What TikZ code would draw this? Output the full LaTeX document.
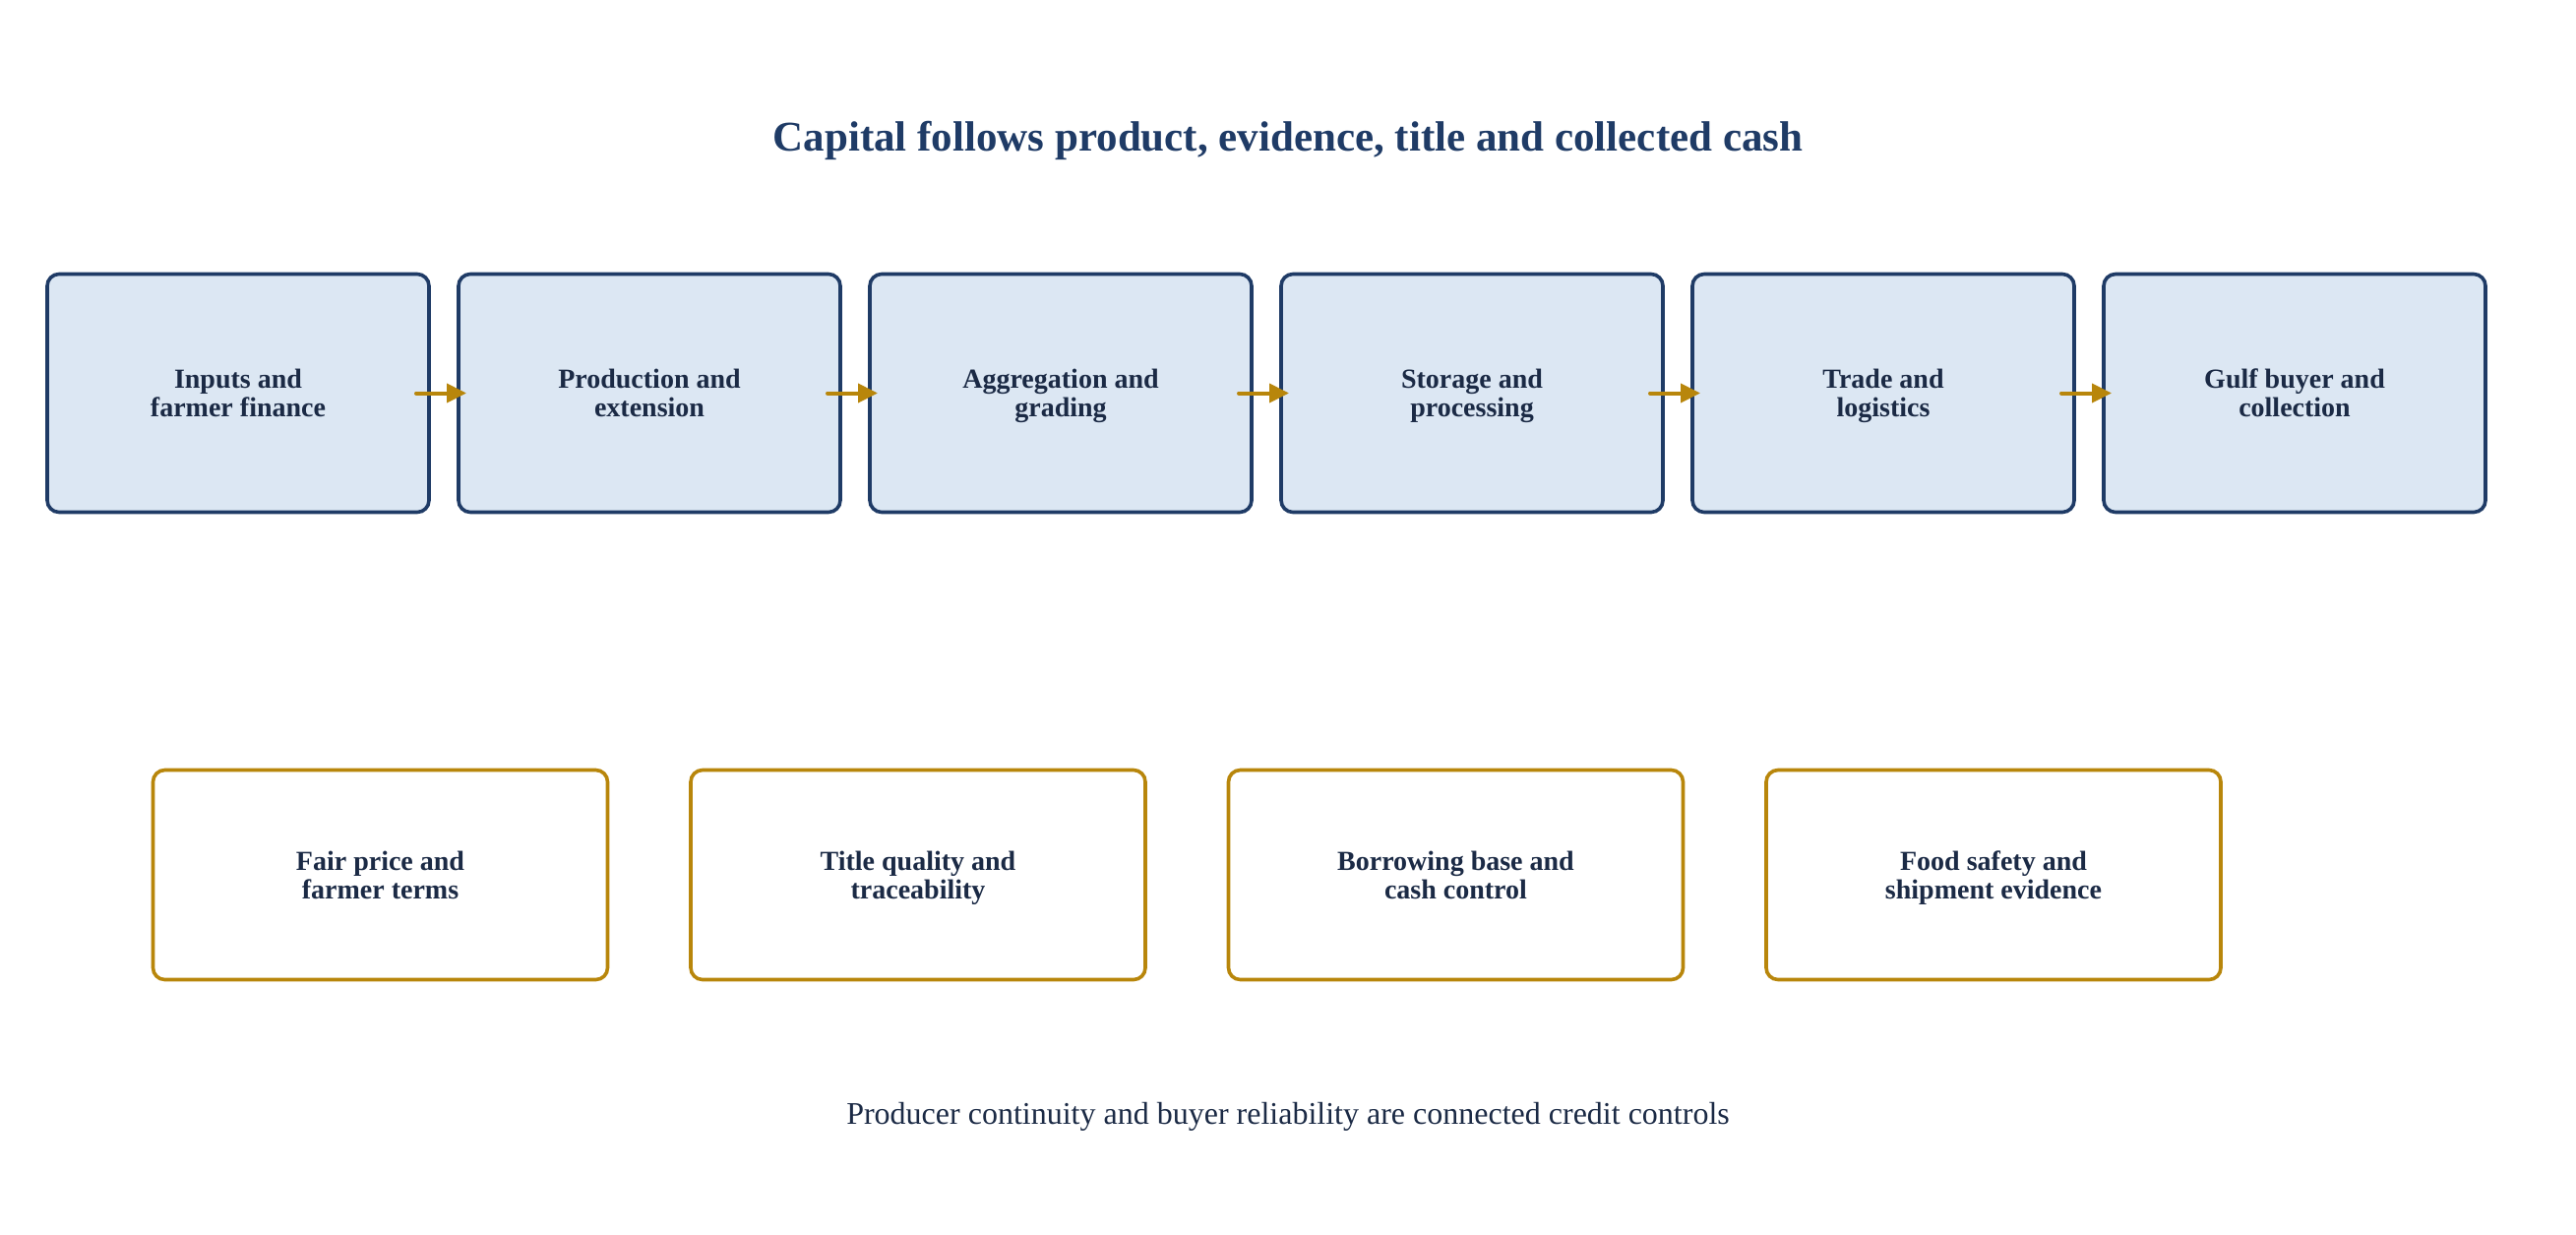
\documentclass[tikz,border=0pt]{standalone}
\usepackage{fontspec}
\setmainfont{Liberation Serif}
\usetikzlibrary{arrows.meta}

\definecolor{navyline}{HTML}{1F3B66}
\definecolor{stagefill}{HTML}{DCE7F3}
\definecolor{goldline}{HTML}{B8860B}
\definecolor{inktext}{HTML}{1B2A45}
\definecolor{titleblue}{HTML}{1F3B66}

\begin{document}
\begin{tikzpicture}[x=0.5pt,y=-0.5pt]

        \useasboundingbox (0,0) rectangle (2618,1254);

        \node[anchor=base, text=titleblue, font=\fontsize{21.5}{24}\selectfont\bfseries] (title) at (1309,153)
          {Capital follows product, evidence, title and collected cash};

        \begin{scope}[every node/.style={rectangle, draw=navyline, fill=stagefill, line width=1.8pt,
            rounded corners=6pt, minimum width=194pt, minimum height=121pt, outer sep=0pt,
            align=center, text depth=0pt, text=inktext, font=\fontsize{14}{14.5}\selectfont\bfseries}]
          \node (s1) at (242,399.5)  {Inputs and\\farmer finance};
          \node (s2) at (660,399.5)  {Production and\\extension};
          \node (s3) at (1078,399.5) {Aggregation and\\grading};
          \node (s4) at (1496,399.5) {Storage and\\processing};
          \node (s5) at (1914,399.5) {Trade and\\logistics};
          \node (s6) at (2332,399.5) {Gulf buyer and\\collection};
        \end{scope}

        \begin{scope}[every edge/.style={draw=goldline, line width=2pt, line cap=round,
            -{Triangle[length=10pt,width=9.5pt]}}]
          \path ([xshift=-6.5pt]s1.east) edge ([xshift=4pt]s2.west);
          \path ([xshift=-6.5pt]s2.east) edge ([xshift=4pt]s3.west);
          \path ([xshift=-6.5pt]s3.east) edge ([xshift=4pt]s4.west);
          \path ([xshift=-6.5pt]s4.east) edge ([xshift=4pt]s5.west);
          \path ([xshift=-6.5pt]s5.east) edge ([xshift=4pt]s6.west);
        \end{scope}

        \begin{scope}[every node/.style={rectangle, draw=goldline, fill=white, line width=1.8pt,
            rounded corners=6pt, minimum width=231pt, minimum height=106.5pt, outer sep=0pt,
            align=center, text depth=0pt, text=inktext, font=\fontsize{14}{14.5}\selectfont\bfseries}]
          \node (c1) at (386.5,889)  {Fair price and\\farmer terms};
          \node (c2) at (933,889)    {Title quality and\\traceability};
          \node (c3) at (1479.5,889) {Borrowing base and\\cash control};
          \node (c4) at (2026,889)   {Food safety and\\shipment evidence};
        \end{scope}

        \node[anchor=base, text=inktext, font=\fontsize{16}{18}\selectfont] (note) at (1309,1142)
          {Producer continuity and buyer reliability are connected credit controls};

      \end{tikzpicture}
\end{document}
